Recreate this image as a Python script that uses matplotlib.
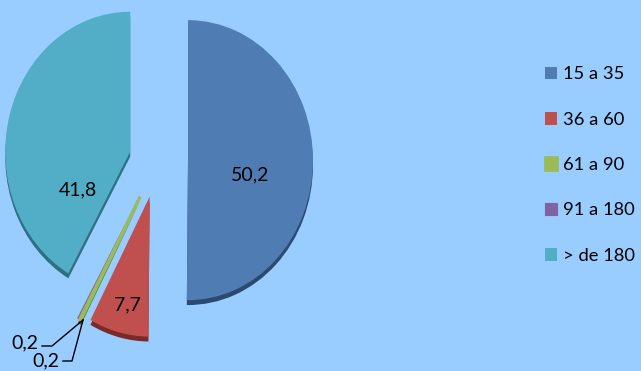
import matplotlib
matplotlib.use('Agg')
import matplotlib.pyplot as plt

# data
categories = ['15 a 35', '36 a 60', '61 a 90', '91 a 180', '> de 180']
values = [50.2, 7.7, 0.2, 0.2, 41.8]
value_labels = ['50,2', '7,7', '0,2', '0,2', '41,8']

colors = ['#4F7DB3', '#C0504D', '#9BBB59', '#8064A2', '#52AEC6']
shadow_colors = ['#2C4A70', '#7A2A28', '#5E7A30', '#4E3A6A', '#2E6F80']
explode = [0.24, 0.27, 0.30, 0.30, 0.23]
bg = '#99CCFF'

plt.rcParams['font.family'] = ['Lato', 'DejaVu Sans']

W, H = 641, 371
fig = plt.figure(figsize=(W / 100, H / 100), dpi=100, facecolor=bg)

# pie axes: 1 unit = 125 px horizontally, 140 px vertically; centre at pixel (158, 160)
cx, cy, rx, ry = 158, 160, 125, 140
ax = fig.add_axes([0, 0, 1, 1])
ax.set_facecolor(bg)

# shadow copy (3D rim)
ax.pie(values, colors=shadow_colors, explode=explode, startangle=90,
       counterclock=False, center=(0, -0.035), wedgeprops=dict(linewidth=0))
wedges, _ = ax.pie(values, colors=colors, explode=explode, startangle=90,
                   counterclock=False, wedgeprops=dict(linewidth=0))
# thin slices get an outline so they show like in the reference
for w, c, lw in zip(wedges[2:4], colors[2:4], [2.0, 0.8]):
    w.set_edgecolor(c)
    w.set_linewidth(lw)
wedges[2].set_zorder(wedges[3].get_zorder() + 0.1)
ax.set_aspect('auto')
ax.set_xlim(-cx / rx, (W - cx) / rx)
ax.set_ylim(-(H - cy) / ry, cy / ry)
ax.axis('off')

# overlay in pixel coordinates for labels
ov = fig.add_axes([0, 0, 1, 1])
ov.set_xlim(0, W)
ov.set_ylim(H, 0)
ov.axis('off')
ov.patch.set_alpha(0)

label_pos = [(250, 175), (127, 305), None, None, (78, 190)]
for lbl, pos in zip(value_labels, label_pos):
    if pos is not None:
        ov.text(pos[0], pos[1], lbl, fontsize=14, ha='center', va='center', color='black')

# small slices with leader lines
tip = (83, 320)
ov.plot([tip[0], 52, 42], [tip[1], 346, 346], color='black', lw=1)
ov.text(38, 343, value_labels[2], fontsize=14, ha='right', va='center')
ov.plot([tip[0], 72, 63], [tip[1], 361, 361], color='black', lw=1)
ov.text(59, 361, value_labels[3], fontsize=14, ha='right', va='center')

fig.legend(wedges, categories, loc='center left', bbox_to_anchor=(528 / W, (H - 165) / H),
           frameon=False, fontsize=13.2, handlelength=0.7, handleheight=0.7,
           handletextpad=0.3, labelspacing=1.6)

fig.savefig('out.png', dpi=100, facecolor=bg)
